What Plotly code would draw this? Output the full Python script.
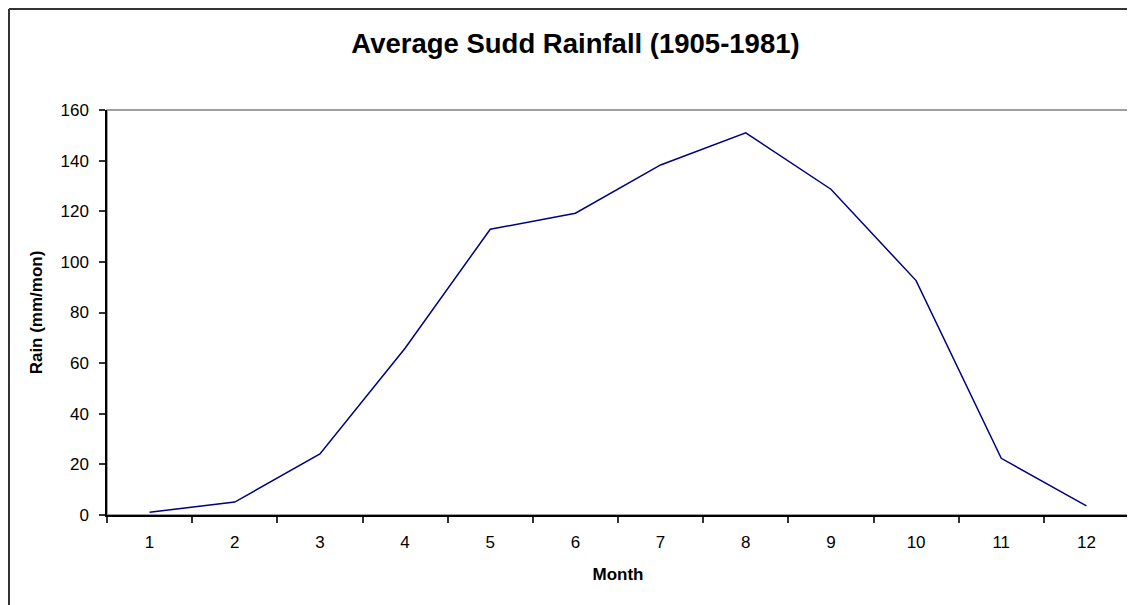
import plotly.graph_objects as go

# Dados
meses = ['1', '2', '3', '4', '5', '6', '7', '8', '9', '10', '11', '12']
chuva = [1.1, 5.1, 24.1, 65.9, 112.9, 119.2, 138.3, 151.0, 128.7, 92.6, 22.4, 3.6]

fig = go.Figure()

fig.add_trace(go.Scatter(x=meses, y=chuva,
                         mode='lines',
                         line=dict(color='#000080', width=1.5),
                         name='Rain'))

fonte = 'Liberation Sans, Arial, sans-serif'

# moldura da area de plotagem (topo e direita cinza)
fig.add_shape(type='rect', xref='paper', yref='paper',
              x0=0, x1=1, y0=0, y1=1,
              line=dict(color='#808080', width=1.5), layer='below')

# moldura externa do grafico (cortada a direita e embaixo)
fig.add_shape(type='line', xref='paper', yref='paper',
              x0=-0.0959, x1=1.05, y0=1.2494, y1=1.2494,
              line=dict(color='#333333', width=2))
fig.add_shape(type='line', xref='paper', yref='paper',
              x0=-0.0959, x1=-0.0959, y0=1.2494, y1=-0.3,
              line=dict(color='#333333', width=2))

# a pagina tem margem de 8px, entao a figura e deslocada
fig.update_layout(
    width=1135, height=605,
    margin=dict(l=99, r=14, t=102, b=98),
    paper_bgcolor='white', plot_bgcolor='white',
    showlegend=False,
    font=dict(family=fonte, size=17, color='black'),
    title=dict(text='<b>Average Sudd Rainfall (1905-1981)</b>',
               x=0.5, xref='container', xanchor='center',
               y=1 - 35 / 605, yref='container', yanchor='middle',
               font=dict(family=fonte, size=27.5, color='black')),
)

fig.update_xaxes(type='category', tickson='boundaries', range=[-0.5, 11.5],
                 ticks='outside', ticklen=6, tickcolor='#333333', tickwidth=1.5,
                 ticklabelstandoff=11,
                 showline=True, linecolor='black', linewidth=1.5,
                 showgrid=False, zeroline=False,
                 title=dict(text='<b>Month</b>', font=dict(size=17), standoff=17))

fig.update_yaxes(range=[0, 160], dtick=20,
                 ticks='outside', ticklen=6, tickcolor='#333333', tickwidth=1.5,
                 ticklabelstandoff=7,
                 showline=True, linecolor='black', linewidth=1.5,
                 showgrid=False, zeroline=False,
                 title=dict(text='<b>Rain (mm/mon)</b>', font=dict(size=17), standoff=14))

fig.write_html('out.html')
